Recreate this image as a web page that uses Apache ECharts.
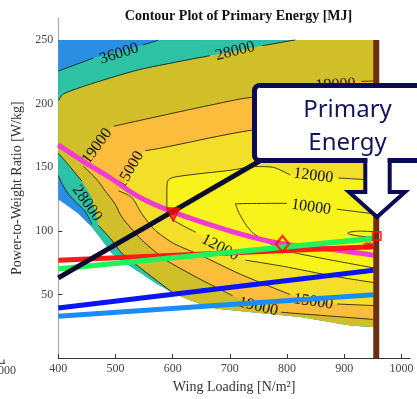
<!DOCTYPE html>
<html><head><meta charset="utf-8">
<script src="https://cdn.jsdelivr.net/npm/echarts@6/dist/echarts.min.js"></script>
<style>html,body{margin:0;padding:0;background:#fff}#c{width:417px;height:399px}</style>
</head><body><div id="c"></div>
<script>
// ---------- axis ticks ----------
const xTickValues = [400, 500, 600, 700, 800, 900, 1000];
const yTickValues = [50, 100, 150, 200, 250];

// ---------- filled contour regions (data coords), drawn in order ----------
const bottomEdge = [[955,24.2],[910.7,25.7],[823.2,32.2],[764.8,34.8],[677.3,38.7],[648,42.5],[624.8,46.4],[601.3,51]];
const regionAll = [[400,250],[955,250]].concat(bottomEdge,[[569.3,59.2],[546,66.3],[516.8,74.7],[493.5,82.4],[476,92.8],[458.5,103.1],[435,113.4],[411.7,121.1],[400,124.7]]);
const regionBelow36000 = [[400,225.5],[461.3,235.8],[548.3,246.1],[574.5,249.8],[955,250]].concat(bottomEdge,[[569.3,59.2],[546,66.3],[516.8,74.7],[493.5,82.4],[476,92.8],[459,103],[446.7,115.5],[431,122.4],[417,129.4],[406.5,137.1],[400,143.3]]);
const regionBelow28000 = [[400,202.3],[408.8,207.5],[455.5,215.2],[543,226.8],[665,237.6],[709,241.3],[757,245.5],[814.5,250],[955,250]].concat(bottomEdge,[[569.3,61.9],[540,72.1],[511,82.4],[493.5,92.8],[470,104.4],[464.3,115.5],[458.5,126.3],[441,139.2],[417.5,152],[400,161.1]]);
const regionBelow19000 = [[955,217.8],[930,217.4],[885,216.5],[845.9,215.2],[740.9,205.1],[718,203.6],[635.8,195.9],[543,186.8],[493.5,181.7],[468,166],[443.8,150.8],[467.2,140.4],[481.8,131.5],[499.3,121.1],[511,110.9],[546,92.8],[586.8,77.4],[601.3,73.5],[648,62],[705,49],[749,41.5],[790,36],[951,30.4],[955,30.3]];
const regionBelow15000 = [[955,188],[738.6,179.1],[578,164.9],[548.3,162.4],[527,147],[505,131.5],[528.5,126.3],[546,113.4],[569.3,100.5],[601.3,90.2],[648,81],[718,66],[810.9,48.9],[848,45.5],[887.4,42.5],[955,41.2]];
const regionBelow12000 = [[955,139.8],[890,141.5],[848,143],[805.6,143.8],[775,150],[745,150.5],[700,147.5],[640,144.5],[600,141.9],[591,139],[589.8,130],[589.8,118.5],[599,109.3],[640,99],[683,87],[727,77],[793.5,72.1],[881,64.4],[955,59.1]];
const regionColors = ['#2a8ee2','#2dc2a4','#d1bf2a','#fbbd3b','#f3df29','#f8f41b'];

// ---------- contour lines (segments, gaps at labels) ----------
const contour36000 = [
  [[400,225.5],[461.3,235.8]], [[548.3,246.1],[574.5,249.8]],
  [[400,143.3],[406.5,137.1],[417,129.4],[431,122.4],[446.7,115.5],[459,105]]
];
const contour28000 = [
  [[400,202.3],[408.8,207.5],[455.5,215.2],[543,226.8],[665,237.6]], [[757,245.5],[814.5,250]],
  [[400,161.1],[417.5,152],[441,139.2]], [[470,104.4],[493.5,92.8],[511,82.4],[540,72.1],[569.3,61.9],[601.3,51]]
];
const contour19000 = [
  [[955,217.8],[930,217.4]], [[845.9,215.2],[740.9,205.1],[718,203.6],[635.8,195.9],[543,186.8],[497,182.2]],
  [[443.8,150.8],[467.2,140.4],[481.8,131.5],[499.3,121.1],[511,110.9],[546,92.8],[586.8,77.4],[601.3,73.5],[648,62],[705,49]],
  [[790,36],[951,30.4]]
];
const contour15000 = [
  [[955,188],[738.6,179.1],[578,164.9],[552,163]],
  [[505,131.5],[528.5,126.3],[546,113.4],[569.3,100.5],[601.3,90.2],[648,81],[718,66],[805,50]],
  [[887.4,42.5],[955,41.2]]
];
const contour12000 = [
  [[955,139.8],[890,141.5]],
  [[805.6,143.8],[775,150],[745,150.5],[700,147.5],[640,144.5],[600,141.9],[591,139],[589.8,130],[589.8,118.5],[599,109.3],[640,99]],
  [[727,77],[793.5,72.1],[881,64.4],[955,59.1]]
];
const contour10000 = [
  [[951.5,113.4],[887,117]],
  [[800,121.6],[709.3,121.1],[712,118.5],[715.1,114.7],[726.8,105.6],[741.4,97.9],[770,90],[805.6,83.5],[955,70.6]]
];
const contour8000 = [
  [[951.5,99.4],[925,99.8],[910,99],[906,98.2],[910,97.2],[925,96],[951.5,94.8]]
];
const contourLabelText = ['36000','28000','28000','19000','15000','19000','15000','12000','12000','10000','19000'];
const contourLabelPos = [[506.3,239.2],[709.3,241.1],[450.2,121.6],[467.8,166.5],[525.5,148],[749.6,40.4],[845.9,44.3],[845.9,143.3],[683,86.8],[842,118.6],[884.6,214.8]];
const contourLabelRot = [17.5,14,-55,54,60,-13,-8,-7,-28,-8,3];

// ---------- overlay lines ----------
const magentaCurve = [[400,167.5],[443.8,154.6],[490.5,141.7],[543,126.2],[601.3,114.7],[677.3,103.1],[735.7,95.4],[794,89.7],[881.6,85.1],[951.6,80.8]];
const blackLine = [[400,63.1],[800,167.3]];
const redLine = [[400,76.8],[951,87.5]];
const greenLine = [[400,70.1],[951,94]];
const blueLine = [[400,39.4],[951,69.1]];
const lightBlueLine = [[400,32.9],[951,49.7]];
const brownLine = [[956,0],[956,250]];
const trianglePoint = [[601,112.6]];
const diamondPoint = [[792,89.7]];
const squarePoint = [[957,96]];
const asteriskPoints = [[938.7,88],[945.5,88.3]];

const chart = echarts.init(document.getElementById('c'), null, {renderer:'canvas'});
const serif = 'Liberation Serif, Times New Roman, serif';
const series = [];

series.push({
  type:'custom', silent:true, z:1,
  data: [regionAll,regionBelow36000,regionBelow28000,regionBelow19000,regionBelow15000,regionBelow12000].map(p=>p[0]),
  renderItem:(params, api)=>{
    const polys=[regionAll,regionBelow36000,regionBelow28000,regionBelow19000,regionBelow15000,regionBelow12000];
    const poly=polys[params.dataIndex];
    return {type:'polygon', shape:{points:poly.map(q=>api.coord(q))}, style:{fill:regionColors[params.dataIndex]}};
  }
});

[contour36000,contour28000,contour19000,contour15000,contour12000,contour10000,contour8000].forEach(c=>{
  c.forEach(seg=>{
    series.push({type:'line', data:seg, symbol:'none', silent:true, z:2, smooth:0.25,
      lineStyle:{color:'#111', width:0.8}});
  });
});

series.push({
  type:'custom', silent:true, z:3,
  data: contourLabelPos,
  renderItem:(params, api)=>{
    const i=params.dataIndex;
    const pt=api.coord(contourLabelPos[i]);
    return {type:'text', x:pt[0], y:pt[1], rotation:contourLabelRot[i]*Math.PI/180,
      style:{text:contourLabelText[i], fontSize:16, fontFamily:serif, fill:'#111', align:'center', verticalAlign:'middle', textAlign:'center', textVerticalAlign:'middle'}};
  }
});

function lineS(data,color,width,z,smooth){
  return {type:'line', data, symbol:'none', silent:true, z, smooth:smooth||false, lineStyle:{color, width, cap:'butt'}};
}
series.push(lineS(lightBlueLine,'#1a8cf5',5,4));
series.push(lineS(blueLine,'#0a14f5',5,4));
series.push(lineS(magentaCurve,'#f23bd0',5,4,0.4));
series.push(lineS(redLine,'#ff1a1a',5,4));
series.push(lineS(greenLine,'#1ff25a',5.5,4));
series.push(lineS(blackLine,'#0b0b2e',5,4));
series.push(lineS(brownLine,'#6b2e0e',6,5));

series.push({type:'scatter', data:trianglePoint, symbol:'triangle', symbolRotate:180, symbolSize:14, z:6, silent:true,
  itemStyle:{color:'#ff1010', borderColor:'#e00000', borderWidth:1}});
series.push({type:'scatter', data:diamondPoint, symbol:'diamond', symbolSize:[13,16], z:6, silent:true,
  itemStyle:{color:'rgba(0,0,0,0)', borderColor:'#ff1010', borderWidth:2.5}});
series.push({type:'scatter', data:squarePoint, symbol:'rect', symbolSize:8, z:6, silent:true,
  itemStyle:{color:'rgba(0,0,0,0)', borderColor:'#ff1010', borderWidth:2}});
series.push({type:'scatter', data:asteriskPoints, symbol:'path://M5 0L5 10M0 5L10 5M1.5 1.5L8.5 8.5M8.5 1.5L1.5 8.5', symbolSize:8, z:6, silent:true,
  itemStyle:{color:'rgba(0,0,0,0)', borderColor:'#ff1010', borderWidth:1.6}});

const navy = '#0b0b55';
chart.setOption({
  animation:false,
  backgroundColor:'#fff',
  title:{text:'Contour Plot of Primary Energy [MJ]', left:233.5, textAlign:'center', top:4,
    textStyle:{fontFamily:serif, fontSize:14, fontWeight:'bold', color:'#111'}},
  grid:{left:58.3, right:7, top:18.3, bottom:35.7, containLabel:false},
  xAxis:{type:'value', min:400, max:1015,
    name:'Wing Loading [N/m²]', nameLocation:'middle', nameGap:16,
    nameTextStyle:{fontFamily:serif, fontSize:14, color:'#333'},
    axisLine:{show:true, lineStyle:{color:'#333', width:1}},
    axisTick:{show:true, inside:true, length:4, customValues:xTickValues, lineStyle:{color:'#333'}},
    axisLabel:{customValues:xTickValues, formatter:v=>String(v), fontFamily:serif, fontSize:12, color:'#444', margin:5},
    splitLine:{show:false}},
  yAxis:{type:'value', min:0, max:267,
    name:'Power-to-Weight Ratio [W/kg]', nameLocation:'middle', nameGap:27, nameRotate:90,
    nameTextStyle:{fontFamily:serif, fontSize:14, color:'#333'},
    axisLine:{show:true, lineStyle:{color:'#aaa', width:1.2}},
    axisTick:{show:true, inside:true, length:4, customValues:yTickValues, lineStyle:{color:'#333'}},
    axisLabel:{customValues:yTickValues, formatter:v=>String(v), fontFamily:serif, fontSize:12, color:'#444', margin:5},
    splitLine:{show:false}},
  series,
  graphic:[
    {type:'text', x:4, y:371, z:10, style:{text:'1000', fontFamily:serif, fontSize:12, fill:'#444', align:'center', verticalAlign:'middle', textAlign:'center', textVerticalAlign:'middle'}},
    {type:'line', z:10, shape:{x1:0,y1:363.3,x2:5,y2:363.3}, style:{stroke:'#333', lineWidth:1}},
    {type:'line', z:10, shape:{x1:4,y1:359.5,x2:4,y2:363.3}, style:{stroke:'#333', lineWidth:1}},
    {type:'polygon', z:100, shape:{points:[[365.3,158],[365.3,192],[349,192],[377,217],[405,192],[389.7,192],[389.7,158]]},
      style:{fill:'#fff', stroke:navy, lineWidth:4, lineJoin:'miter'}},
    {type:'rect', z:101, shape:{x:254.5, y:85.5, width:175, height:75, r:5},
      style:{fill:'#fff', stroke:navy, lineWidth:5}},
    {type:'rect', z:102, shape:{x:367.5, y:158, width:20, height:6}, style:{fill:'#fff'}},
    {type:'text', z:103, x:347.5, y:110, style:{text:'Primary', fontFamily:'Noto Sans', fontSize:24, fill:'#14145a', align:'center', verticalAlign:'middle', textAlign:'center', textVerticalAlign:'middle'}},
    {type:'text', z:103, x:347.5, y:143, style:{text:'Energy', fontFamily:'Noto Sans', fontSize:24, fill:'#14145a', align:'center', verticalAlign:'middle', textAlign:'center', textVerticalAlign:'middle'}}
  ]
});
</script>
</body></html>
